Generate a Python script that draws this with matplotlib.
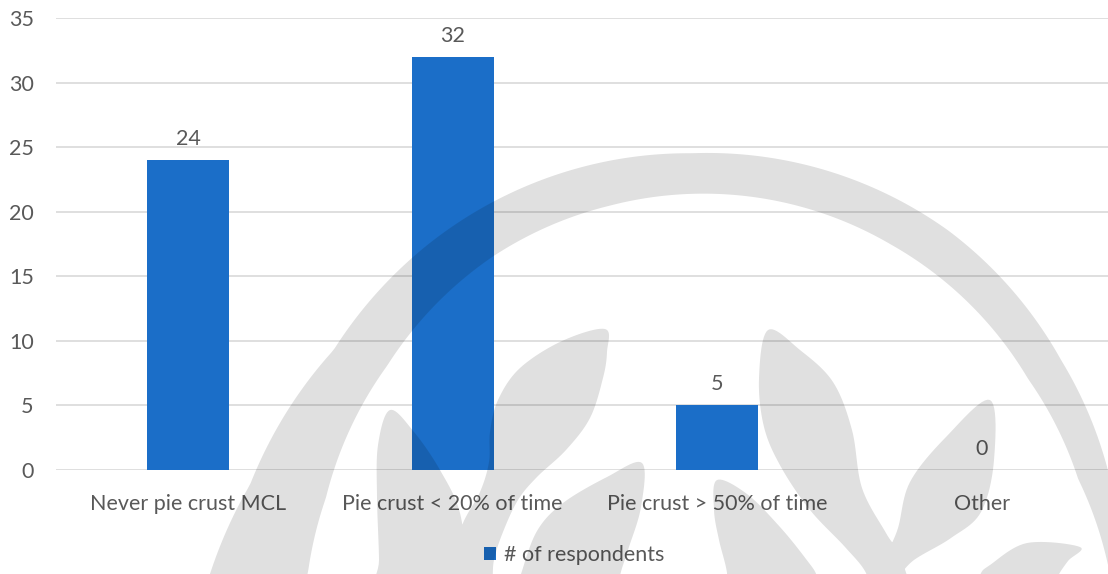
import numpy as np
import matplotlib
matplotlib.use("Agg")
import matplotlib.pyplot as plt
from matplotlib.path import Path
from matplotlib.patches import PathPatch, Patch

# ---- data ----
categories = ["Never pie crust MCL", "Pie crust < 20% of time",
              "Pie crust > 50% of time", "Other"]
respondents = [24, 32, 5, 0]
series_name = "# of respondents"
y_ticks = [0, 5, 10, 15, 20, 25, 30, 35]

BAR_COLOR = "#1b6ec8"
TEXT_COLOR = "#595959"
GRID_COLOR = "#d9d9d9"
FONT = ["Lato", "DejaVu Sans"]
FS = 15.5

W, H = 1108, 574
fig = plt.figure(figsize=(W / 100, H / 100), dpi=100)
fig.patch.set_facecolor("white")
plt.rcParams["font.family"] = FONT

ax = fig.add_axes([56 / W, 104 / H, 1058 / W, 452 / H])
ax.set_facecolor("none")
x = np.arange(len(categories))
bars = ax.bar(x, respondents, width=0.31, color=BAR_COLOR, zorder=3)
ax.bar_label(bars, labels=[str(v) for v in respondents], padding=8,
             fontsize=FS, color=TEXT_COLOR)

ax.set_xlim(-0.5, len(categories) - 0.5)
ax.set_ylim(0, 35)
ax.set_yticks(y_ticks)
ax.set_xticks(x)
ax.set_xticklabels(categories)
ax.tick_params(axis="y", length=0, pad=16, labelsize=FS, labelcolor=TEXT_COLOR)
ax.tick_params(axis="x", length=0, pad=17, labelsize=FS, labelcolor=TEXT_COLOR)
ax.grid(axis="y", color=GRID_COLOR, linewidth=1.2, zorder=0)
ax.set_axisbelow(True)
for s in ax.spines.values():
    s.set_visible(False)

fig.legend(handles=[Patch(facecolor=BAR_COLOR, label=series_name)],
           loc="center", bbox_to_anchor=(574 / W, (H - 555) / H),
           frameon=False, fontsize=FS, labelcolor=TEXT_COLOR,
           handlelength=0.55, handleheight=0.55, handletextpad=0.35)


# ---- faint logo watermark over the chart (pixel coordinates, y downward) ----
def catmull_rom(pts, n=12):
    pts = np.asarray(pts, float)
    P = np.vstack([pts[-1], pts, pts[0], pts[1]])
    out = []
    for i in range(1, len(pts) + 1):
        p0, p1, p2, p3 = P[i - 1], P[i], P[i + 1], P[i + 2]
        t = np.linspace(0, 1, n, endpoint=False)[:, None]
        out.append(0.5 * ((2 * p1) + (-p0 + p2) * t
                          + (2 * p0 - 5 * p1 + 4 * p2 - p3) * t ** 2
                          + (-p0 + 3 * p1 - 3 * p2 + p3) * t ** 3))
    return np.vstack(out)


def oriented(poly):
    xs, ys = poly[:, 0], poly[:, 1]
    area = 0.5 * np.sum(xs * np.roll(ys, -1) - np.roll(xs, -1) * ys)
    return poly if area > 0 else poly[::-1]


# swoosh ring
cx, cy = 706, 565
th_o = np.radians([-20, 0, 13, 30, 54, 92, 130, 150, 170, 181, 195])
r_o = [500, 440, 413, 410, 413, 412, 424, 430, 463, 496, 540]
th_i = np.radians([-20, 0, 13, 30, 60, 105, 125, 148, 170, 181, 195])
r_i = [450, 402, 382, 372, 370, 372, 375, 376, 386, 398, 425]
th = np.linspace(np.radians(-20), np.radians(195), 300)
ro = np.interp(th, th_o, r_o)
ri = np.interp(th, th_i, r_i)
outer = np.column_stack([cx + ro * np.cos(th), cy - ro * np.sin(th)])
inner = np.column_stack([cx + ri * np.cos(th), cy - ri * np.sin(th)])[::-1]
ring = np.vstack([outer, inner])

leaves = [
    # tall S leaf with stem
    [(605, 329), (607, 352), (603, 378), (590, 418), (566, 450), (537, 477),
     (518, 500), (503, 532), (494, 560), (487, 600), (446, 600), (452, 560),
     (463, 523), (480, 492), (489, 462), (490, 432), (498, 400), (520, 368),
     (562, 341)],
    # left leaf
    [(390, 410), (414, 432), (440, 470), (460, 513), (467, 573), (470, 600),
     (378, 600), (379, 560), (377, 497), (378, 445)],
    # centre-right upright leaf
    [(768, 330), (800, 350), (833, 382), (852, 430), (862, 488), (886, 533),
     (900, 556), (910, 600), (872, 600), (866, 573), (845, 547), (810, 510),
     (781, 467), (764, 427), (759, 378)],
    # right leaf
    [(990, 400), (994, 460), (981, 512), (951, 538), (914, 560), (893, 580),
     (886, 560), (898, 528), (910, 482), (946, 437)],
    # bottom right leaf
    [(1080, 547), (1068, 561), (1057, 578), (1050, 600), (972, 600),
     (980, 575), (990, 565), (1027, 543)],
    # lower middle leaf
    [(642, 463), (641, 507), (628, 550), (620, 576), (618, 600), (514, 600),
     (521, 574), (537, 531), (563, 503), (607, 477)],
    # lower leaf leaning right
    [(717, 480), (747, 494), (780, 527), (806, 559), (817, 576), (822, 600),
     (727, 600), (727, 573), (719, 540), (714, 510)],
]

verts, codes = [], []
for poly in [oriented(ring)] + [oriented(catmull_rom(p)) for p in leaves]:
    verts.extend(poly.tolist())
    verts.append(poly[0].tolist())
    codes.extend([Path.MOVETO] + [Path.LINETO] * (len(poly) - 1) + [Path.CLOSEPOLY])

ov = fig.add_axes([0, 0, 1, 1], zorder=10)
ov.set_xlim(0, W)
ov.set_ylim(H, 0)
ov.axis("off")
ov.patch.set_visible(False)
ov.add_patch(PathPatch(Path(verts, codes), facecolor=(0, 0, 0, 0.12),
                       edgecolor="none"))

fig.savefig("out.png", dpi=100)
